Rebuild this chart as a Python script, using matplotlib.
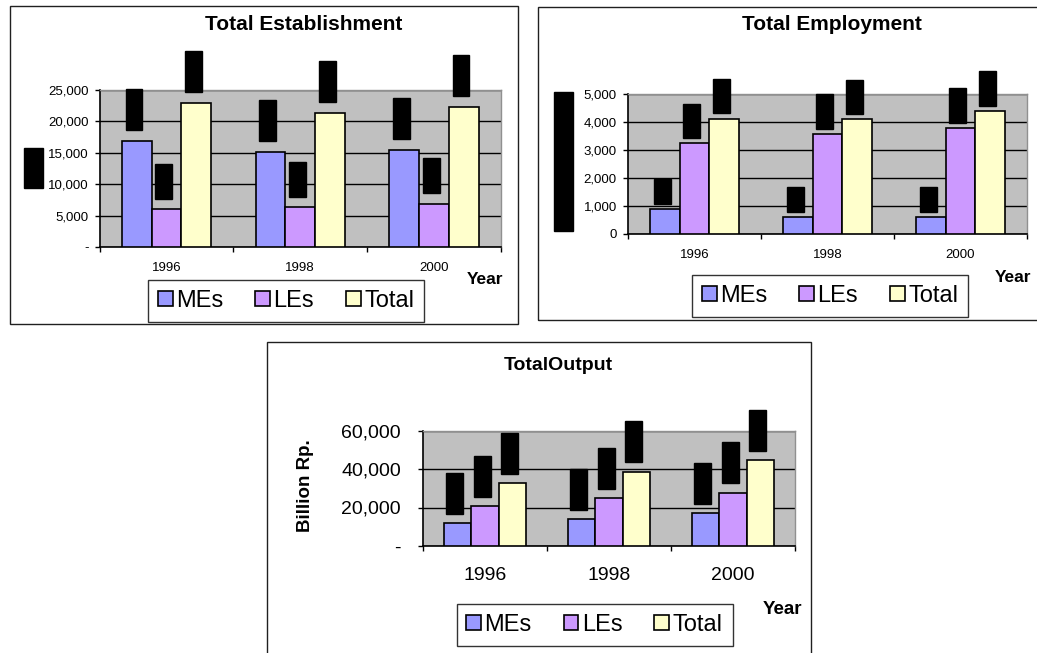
import matplotlib
matplotlib.use("Agg")
import matplotlib.pyplot as plt
from matplotlib.patches import Rectangle, Patch
from matplotlib.ticker import FuncFormatter, FixedLocator
import numpy as np

plt.rcParams['font.family'] = ['Liberation Sans', 'DejaVu Sans']

# ---- data ----
years = ["1996", "1998", "2000"]
series_names = ["MEs", "LEs", "Total"]

estab_mes = [16900, 15100, 15400]
estab_les = [6000, 6300, 6900]
estab_total = [22900, 21400, 22300]

employ_mes = [880, 600, 600]
employ_les = [3240, 3570, 3780]
employ_total = [4120, 4110, 4400]

output_mes = [11900, 13900, 16900]
output_les = [20600, 24700, 27600]
output_total = [32500, 38600, 44500]

colors = ["#9999FF", "#CC99FF", "#FFFFCC"]
PLOT_BG = "#C0C0C0"

W, H = 1037, 653
fig = plt.figure(figsize=(W / 100, H / 100), dpi=100)


def fx(x):
    return x / W


def fy(y):
    return 1 - y / H


def place(x0, y0, x1, y1):
    return [fx(x0), fy(y1), (x1 - x0) / W, (y1 - y0) / H]


def frame(x0, y0, x1, y1):
    fig.patches.append(Rectangle((fx(x0), fy(y1)), (x1 - x0) / W, (y1 - y0) / H,
                                 transform=fig.transFigure, fill=False,
                                 edgecolor="#202020", linewidth=1.0, zorder=0))


def fmt_factory(zero):
    def f(v, pos):
        if abs(v) < 1e-9:
            return zero
        return f"{int(round(v)):,}"
    return f


def bar_chart(rect, values, ymax, ystep, zero_label, tick_fs, ylabel_pad,
              xlabel_pad, label_gap_pt, label_fs):
    ax = fig.add_axes(place(*rect))
    ax.set_facecolor(PLOT_BG)
    x = np.arange(len(years))
    w = 1 / 4.5
    for i, (vals, c) in enumerate(zip(values, colors)):
        xs = x + (i - 1) * w
        ax.bar(xs, vals, width=w, color=c, edgecolor="black", linewidth=1.2, zorder=3)
        for xi, v in zip(xs, vals):
            ax.annotate(f"{v:,}", xy=(xi, v), xytext=(-2, label_gap_pt),
                        textcoords="offset points", rotation=90,
                        ha="center", va="bottom", fontsize=label_fs, color="black",
                        bbox=dict(boxstyle="square,pad=0.2", fc="black", ec="black"),
                        zorder=5, annotation_clip=False)
    ax.set_xlim(-0.5, len(years) - 0.5)
    ax.set_ylim(0, ymax)
    ax.yaxis.set_major_locator(FixedLocator(np.arange(0, ymax + 1, ystep)))
    ax.yaxis.set_major_formatter(FuncFormatter(fmt_factory(zero_label)))
    ax.yaxis.grid(True, color="black", linewidth=1.0, zorder=1)
    ax.set_axisbelow(True)
    ax.xaxis.set_major_locator(FixedLocator(np.arange(-0.5, len(years), 1.0)))
    ax.xaxis.set_major_formatter(FuncFormatter(lambda v, p: ""))
    ax.xaxis.set_minor_locator(FixedLocator(x))
    ax.set_xticklabels(years, minor=True)
    ax.tick_params(axis="x", which="major", direction="out", length=3.5,
                   width=1.0, color="black")
    ax.tick_params(axis="x", which="minor", length=0, pad=xlabel_pad,
                   labelsize=tick_fs)
    ax.tick_params(axis="y", direction="out", length=3.5, width=1.0,
                   pad=ylabel_pad, labelsize=tick_fs)
    for s in ("top", "right"):
        ax.spines[s].set_color("#909090")
        ax.spines[s].set_linewidth(1.0)
    for s in ("left", "bottom"):
        ax.spines[s].set_color("black")
        ax.spines[s].set_linewidth(1.2)
    return ax


def legend_at(x, y, fs, colspacing):
    handles = [Patch(facecolor=c, edgecolor="black", linewidth=1.2) for c in colors]
    leg = fig.legend(handles, series_names, loc="upper left",
                     bbox_to_anchor=(fx(x), fy(y)), ncol=3, fontsize=fs,
                     frameon=True, fancybox=False, borderpad=0.42,
                     handlelength=0.62, handleheight=0.62, handletextpad=0.15,
                     columnspacing=colspacing, borderaxespad=0)
    leg.get_frame().set_edgecolor("black")
    leg.get_frame().set_linewidth(1.0)
    return leg


# ---- Total Establishment ----
frame(9.5, 6, 518, 324)
bar_chart((99.5, 90, 501, 247), [estab_mes, estab_les, estab_total],
          25000, 5000, "-", 9.5, 4.5, 11, 9.5, 8.6)
fig.text(fx(304), fy(24), "Total Establishment", ha="center", va="center",
         fontsize=15, fontweight="bold")
fig.text(fx(33.5), fy(168), "Units", rotation=90, ha="center", va="center",
         fontsize=11, color="black",
         bbox=dict(boxstyle="square,pad=0.15", fc="black", ec="black"))
fig.text(fx(485), fy(280), "Year", ha="center", va="center", fontsize=12.5,
         fontweight="bold")
legend_at(148, 280, 17, 1.35)

# ---- Total Employment ----
frame(538, 7, 1045, 320)
bar_chart((628, 94, 1027, 234), [employ_mes, employ_les, employ_total],
          5000, 1000, "0", 9.5, 4.5, 11, 5.5, 8.6)
fig.text(fx(832), fy(25), "Total Employment", ha="center", va="center",
         fontsize=15, fontweight="bold")
fig.text(fx(563.5), fy(161.5), "Thousand Persons", rotation=90, ha="center",
         va="center", fontsize=11.5, color="black",
         bbox=dict(boxstyle="square,pad=0.15", fc="black", ec="black"))
fig.text(fx(1013), fy(278), "Year", ha="center", va="center", fontsize=12.5,
         fontweight="bold")
legend_at(692, 275, 17, 1.35)

# ---- Total Output ----
frame(267, 342, 811, 665)
bar_chart((423, 430.5, 795, 546), [output_mes, output_les, output_total],
          60000, 20000, "-", 14, 12.5, 15, 8.5, 8.6)
fig.text(fx(558), fy(365), "TotalOutput", ha="center", va="center",
         fontsize=14, fontweight="bold")
fig.text(fx(305), fy(486), "Billion Rp.", rotation=90, ha="center", va="center",
         fontsize=13.5, fontweight="bold")
fig.text(fx(782), fy(609), "Year", ha="center", va="center", fontsize=13.5,
         fontweight="bold")
legend_at(456.5, 604, 17, 1.35)

fig.savefig("out.png", dpi=100, facecolor="white")
